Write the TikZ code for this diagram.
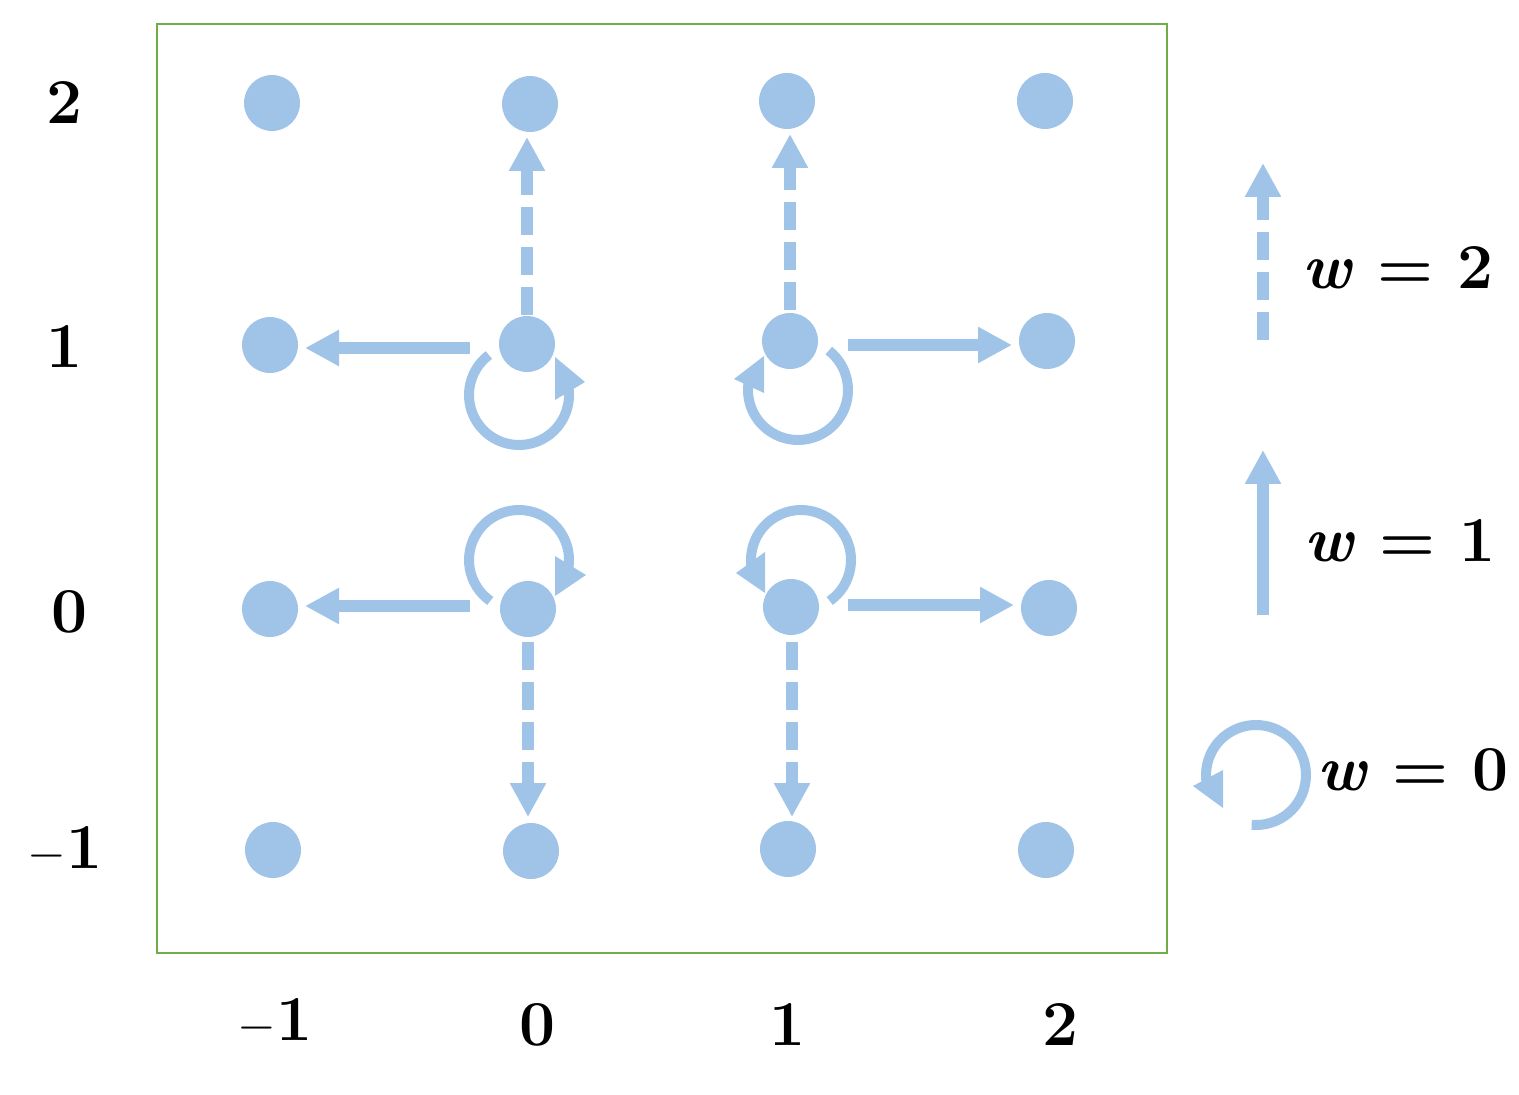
\documentclass[tikz,border=0pt]{standalone}
\usetikzlibrary{arrows.meta}
\definecolor{bl}{RGB}{160,196,232}
\definecolor{gr}{RGB}{112,173,71}
\begin{document}
\begin{tikzpicture}[x=0.5pt,y=-0.5pt,
  dot/.style={circle,fill=bl,minimum size=28pt,inner sep=0pt},
  arr/.style={draw=bl,line width=6pt,-{Triangle[length=17pt,width=17pt]}},
  darr/.style={arr,dash pattern=on 14pt off 6pt},
  loop/.style={draw=bl,line width=5pt},
  tip/.style={fill=bl},
  lab/.style={font=\fontsize{32}{36}\selectfont\bfseries}]
\useasboundingbox (0,0) rectangle (1519,1095);
\draw[gr,line width=1pt] (157,24) rectangle (1167,953);
\node[dot] (a1) at (272,103) {}; \node[dot] (a2) at (530,104) {};
\node[dot] (a3) at (787,101) {}; \node[dot] (a4) at (1045,101) {};
\node[dot] (b1) at (270,345) {}; \node[dot] (b2) at (527,344) {};
\node[dot] (b3) at (790,341) {}; \node[dot] (b4) at (1047,341) {};
\node[dot] (c1) at (270,609) {}; \node[dot] (c2) at (528,609) {};
\node[dot] (c3) at (791,607) {}; \node[dot] (c4) at (1049,608) {};
\node[dot] (d1) at (273,850) {}; \node[dot] (d2) at (531,851) {};
\node[dot] (d3) at (788,849) {}; \node[dot] (d4) at (1046,850) {};
% arrows
\coordinate (p1) at (470,348); \coordinate (q1) at (305,348);
\draw[arr] (p1) -- (q1);
\coordinate (p2) at (470,606); \coordinate (q2) at (305,606);
\draw[arr] (p2) -- (q2);
\coordinate (p3) at (848,345); \coordinate (q3) at (1012,345);
\draw[arr] (p3) -- (q3);
\coordinate (p4) at (848,605); \coordinate (q4) at (1014,605);
\draw[arr] (p4) -- (q4);
\coordinate (u1) at (527,315); \coordinate (v1) at (527,137);
\draw[darr] (u1) -- (v1);
\coordinate (u2) at (790,310); \coordinate (v2) at (790,134);
\draw[darr] (u2) -- (v2);
\coordinate (u3) at (528,642); \coordinate (v3) at (528,817);
\draw[darr] (u3) -- (v3);
\coordinate (u4) at (792,642); \coordinate (v4) at (792,817);
\draw[darr] (u4) -- (v4);
% loops
\draw[loop] (519,395) ++(233:50) arc[start angle=233,end angle=-12,radius=50];
\fill[tip] (555,357) -- (585,382) -- (555,400) -- cycle;
\draw[loop] (798,390) ++(-52:50) arc[start angle=-52,end angle=192,radius=50];
\fill[tip] (764,356) -- (734,379) -- (764,393) -- cycle;
\draw[loop] (519,560) ++(125:50) arc[start angle=125,end angle=372,radius=50];
\fill[tip] (555,556) -- (586,575) -- (555,596) -- cycle;
\draw[loop] (801,560) ++(55:50) arc[start angle=55,end angle=-192,radius=50];
\fill[tip] (765,552) -- (736,573) -- (765,593) -- cycle;
% legend
\coordinate (l1) at (1263,340); \coordinate (m1) at (1263,163);
\draw[darr] (l1) -- (m1);
\coordinate (l2) at (1263,615); \coordinate (m2) at (1263,450);
\draw[arr] (l2) -- (m2);
\draw[loop] (1256,775) ++(95:50) arc[start angle=95,end angle=-190,radius=50];
\fill[tip] (1193,786) -- (1223,770) -- (1223,808) -- cycle;
\node[lab] (w2) at (1398,268) {\textit{w} = 2};
\node[lab] (w1) at (1400,541) {\textit{w} = 1};
\node[lab] (w0) at (1413,770) {\textit{w} = 0};
% axis labels
\node[lab] (y2) at (65,103) {2};
\node[lab] (y1) at (65,347) {1};
\node[lab] (y0) at (70,612) {0};
\node[lab] (ym) at (65,850) {$\mathbf{-}$1};
\node[lab] (xm) at (275,1022) {$\mathbf{-}$1};
\node[lab] (x0) at (538,1025) {0};
\node[lab] (x1) at (788,1025) {1};
\node[lab] (x2) at (1060,1025) {2};
\end{tikzpicture}
\end{document}
